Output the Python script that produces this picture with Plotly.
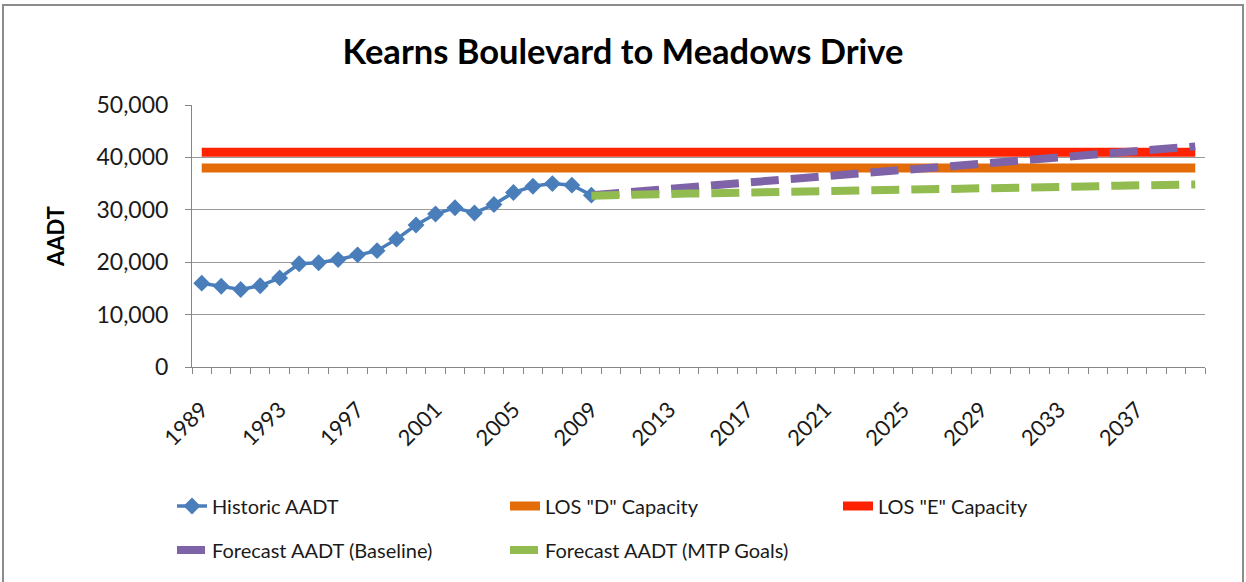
import plotly.graph_objects as go

# category years on the x axis
years = list(range(1989, 2041))
hist_years = list(range(1989, 2010))
fcst_years = list(range(2009, 2041))
tick_years = list(range(1989, 2041, 4))

historic_aadt = [16000, 15400, 14800, 15500, 17000, 19700, 19900, 20500, 21400, 22200,
                 24400, 27100, 29200, 30400, 29400, 31000, 33300, 34500, 35000, 34700, 32800]
los_d = [38000] * len(years)
los_e = [41000] * len(years)
forecast_baseline = [32800, 33100, 33300, 33600, 33800, 34100, 34500, 34900, 35200, 35500,
                     35800, 36100, 36400, 36700, 37000, 37200, 37500, 37800, 38100, 38400,
                     38700, 39000, 39300, 39600, 39900, 40300, 40600, 40900, 41200, 41500,
                     41800, 42100]
forecast_mtp = [32700, 32850, 32950, 33000, 33050, 33100, 33150, 33200, 33250, 33300,
                33350, 33400, 33450, 33500, 33550, 33650, 33750, 33850, 33950, 34050,
                34150, 34250, 34300, 34350, 34400, 34450, 34500, 34600, 34650, 34750,
                34800, 34850]

FONT = "Lato"
W, H = 1246, 582
L, R, T, B = 192, 41, 105, 215

fig = go.Figure()

fig.add_trace(go.Scatter(
    x=hist_years, y=historic_aadt, name="Historic AADT", mode="lines+markers",
    line=dict(color="#4A7EBB", width=3.5),
    marker=dict(symbol="diamond", size=13, color="#4A7EBB"),
    legend="legend",
))
fig.add_trace(go.Scatter(
    x=years, y=los_d, name='LOS "D" Capacity', mode="lines",
    line=dict(color="#E36C09", width=9), legend="legend",
))
fig.add_trace(go.Scatter(
    x=years, y=los_e, name='LOS "E" Capacity', mode="lines",
    line=dict(color="#FF2200", width=9), legend="legend",
))
fig.add_trace(go.Scatter(
    x=fcst_years, y=forecast_baseline, name="Forecast AADT (Baseline)", mode="lines",
    line=dict(color="#7F63A8", width=8, dash="28px,12px"), legend="legend2",
))
fig.add_trace(go.Scatter(
    x=fcst_years, y=forecast_mtp, name="Forecast AADT (MTP Goals)", mode="lines",
    line=dict(color="#92BB50", width=8, dash="28px,12px"), legend="legend2",
))

pw = W - L - R
ph = H - T - B


def px_x(p):
    return (p - L) / pw


def px_y(p):
    return (H - B - p) / ph


# outer chart border
fig.add_shape(type="rect", xref="paper", yref="paper",
              x0=px_x(3), x1=px_x(1243), y0=px_y(590), y1=px_y(5),
              line=dict(color="#8C8C8C", width=2), fillcolor="rgba(0,0,0,0)", layer="below")

legend_style = dict(orientation="h", x=px_x(172), xanchor="left", yanchor="middle",
                    entrywidth=288, font=dict(size=20, color="#1a1a1a"),
                    bgcolor="rgba(0,0,0,0)")

fig.update_layout(
    width=W, height=H, autosize=False,
    margin=dict(l=L, r=R, t=T, b=B),
    paper_bgcolor="white", plot_bgcolor="white",
    font=dict(family=FONT, color="#1a1a1a"),
    title=dict(text="<b>Kearns Boulevard to Meadows Drive</b>", x=0.5, xref="container",
               xanchor="center", y=1 - 52 / H, yanchor="middle",
               font=dict(size=34.5, color="black")),
    legend=dict(y=px_y(506), **legend_style),
    legend2=dict(y=px_y(550), **legend_style),
)

fig.update_xaxes(
    range=[1988.5, 2040.5], tickmode="array", tickvals=tick_years,
    ticktext=[str(y) for y in tick_years], tickangle=-45,
    tickfont=dict(size=22, color="#1a1a1a"), ticklabelstandoff=14,
    ticks="outside", ticklen=6, tickcolor="rgba(0,0,0,0)",
    minor=dict(tick0=1988.5, dtick=1, ticks="outside", ticklen=6, tickcolor="#868686",
               showgrid=False),
    showline=True, linecolor="#868686", linewidth=1, showgrid=False, zeroline=False,
)
fig.update_yaxes(
    range=[0, 50000], dtick=10000, tickformat=",",
    tickfont=dict(size=23, color="#1a1a1a"), ticklabelstandoff=12,
    ticks="outside", ticklen=6, tickcolor="#868686",
    showline=True, linecolor="#868686", linewidth=1,
    showgrid=True, gridcolor="#9A9A9A", gridwidth=1, zeroline=False,
    title=dict(text="<b>AADT</b>", font=dict(size=22, color="black"), standoff=25),
)

fig.write_html("out.html", config={"displayModeBar": False},
               post_script="document.body.style.margin='0';")
